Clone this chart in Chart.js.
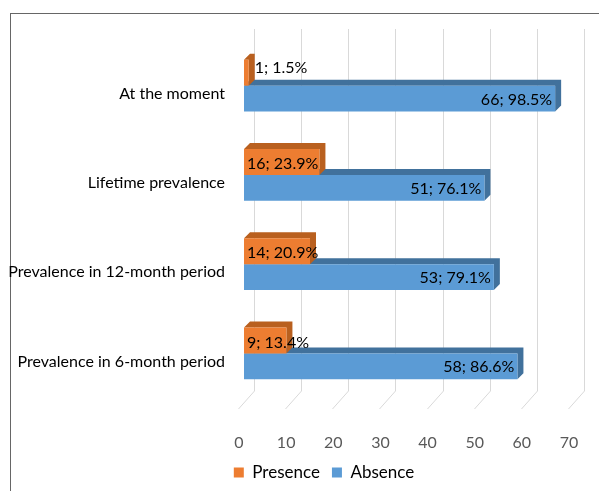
<!DOCTYPE html>
<html>
<head>
<meta charset="utf-8">
<script src="https://cdn.jsdelivr.net/npm/chart.js@4/dist/chart.umd.min.js"></script>
<style>
  html, body { margin: 0; padding: 0; background: #fff; }
  body { width: 599px; height: 491px; overflow: hidden; position: relative; }
  .frame { position: absolute; left: 10px; top: 13px; width: 650px; height: 600px; border: 1px solid #666; }
  #wrap { position: absolute; left: 0; top: 0; width: 599px; height: 491px; }
</style>
</head>
<body>
<div class="frame"></div>
<div id="wrap"><canvas id="myChart"></canvas></div>
<script>
// data
const categories = ['At the moment', 'Lifetime prevalence', 'Prevalence in 12-month period', 'Prevalence in 6-month period'];
const presence = [1, 16, 14, 9];
const absence = [66, 51, 53, 58];
const presencePct = ['1.5%', '23.9%', '20.9%', '13.4%'];
const absencePct = ['98.5%', '76.1%', '79.1%', '86.6%'];
const seriesNames = ['Presence', 'Absence'];
const xMin = 0, xMax = 70, xStep = 10;

const FONT = "Lato, 'Liberation Sans', sans-serif";
const front = ['#ED7D31', '#5B9BD5'];
const side = ['#B9601F', '#41719C'];
const depthX = 6, depthY = 6;

// back wall gridlines + floor lines, then top / right faces of the bars
const fake3d = {
    id: 'fake3d',
    beforeDatasetsDraw(chart) {
        const ctx = chart.ctx;
        const xs = chart.scales.x;
        const area = chart.chartArea;
        ctx.save();
        ctx.strokeStyle = '#D9D9D9';
        ctx.lineWidth = 1;
        for (let v = xMin; v <= xMax; v += xStep) {
            let px = Math.round(xs.getPixelForValue(v)) + 10.5;
            ctx.beginPath();
            ctx.moveTo(px, area.top - 12);
            ctx.lineTo(px, area.bottom - 7);
            ctx.lineTo(px - 16, area.bottom + 11);
            ctx.stroke();
        }
        // faces: blue first so orange sits on top
        for (let d = chart.data.datasets.length - 1; d >= 0; d--) {
            let meta = chart.getDatasetMeta(d);
            meta.data.forEach(function(bar) {
                let p = bar.getProps(['x', 'y', 'base', 'height'], true);
                let top = p.y - p.height / 2, bottom = p.y + p.height / 2;
                ctx.fillStyle = side[d];
                ctx.beginPath();
                ctx.moveTo(p.base, top);
                ctx.lineTo(p.base + depthX, top - depthY);
                ctx.lineTo(p.x + depthX, top - depthY);
                ctx.lineTo(p.x + depthX, bottom - depthY);
                ctx.lineTo(p.x, bottom);
                ctx.lineTo(p.x, top);
                ctx.closePath();
                ctx.fill();
            });
        }
        ctx.restore();
    }
};

// "n; pct" labels
const barLabels = {
    id: 'barLabels',
    afterDatasetsDraw(chart) {
        const ctx = chart.ctx;
        const pcts = [presencePct, absencePct];
        ctx.save();
        ctx.font = '16px ' + FONT;
        ctx.fillStyle = '#000';
        ctx.textBaseline = 'middle';
        chart.data.datasets.forEach(function(ds, d) {
            chart.getDatasetMeta(d).data.forEach(function(bar, i) {
                let p = bar.getProps(['x', 'y', 'base'], true);
                let txt = ds.data[i] + '; ' + pcts[d][i];
                let w = ctx.measureText(txt).width;
                let barW = p.x - p.base;
                if (w + 6 < barW) {
                    ctx.textAlign = 'right';
                    ctx.fillText(txt, p.x - 3, p.y + 1);
                } else if (barW < 15) {
                    ctx.textAlign = 'left';
                    ctx.fillText(txt, p.x + 6, p.y - 5);
                } else {
                    ctx.textAlign = 'left';
                    ctx.fillText(txt, p.base + 3, p.y + 2);
                }
            });
        });
        ctx.restore();
    }
};

// push the legend a bit to the right, as in the picture
const legendShift = {
    id: 'legendShift',
    afterLayout(chart) {
        chart.legend.left += 37;
        chart.legend.right += 37;
    }
};

const myChart = new Chart(document.getElementById('myChart'), {
    type: 'bar',
    data: {
        labels: categories,
        datasets: [
            { label: seriesNames[0], data: presence, backgroundColor: front[0] },
            { label: seriesNames[1], data: absence, backgroundColor: front[1] }
        ]
    },
    options: {
        indexAxis: 'y',
        responsive: true,
        maintainAspectRatio: false,
        animation: false,
        categoryPercentage: 0.58,
        barPercentage: 1,
        layout: { padding: { left: 0, right: 25, top: 41, bottom: 0 } },
        scales: {
            x: {
                min: xMin, max: xMax,
                // ticks hidden, only their length is used to push labels down
                grid: { display: false, drawTicks: true, tickLength: 32 },
                border: { display: false },
                ticks: { stepSize: xStep, padding: 3, labelOffset: -5, color: '#595959', font: { family: FONT, size: 16 } },
                afterFit: function(scale) { scale.height = 54; }
            },
            y: {
                grid: { display: false, drawTicks: false },
                border: { display: false },
                ticks: { padding: 19, labelOffset: 8, color: '#000', font: { family: FONT, size: 16 } },
                afterFit: function(scale) { scale.width = 244; }
            }
        },
        plugins: {
            legend: {
                position: 'bottom',
                labels: { boxWidth: 10, boxHeight: 10, padding: 12, color: '#000', font: { family: FONT, size: 17 } }
            },
            tooltip: { enabled: false }
        }
    },
    plugins: [fake3d, barLabels, legendShift]
});
</script>
</body>
</html>
